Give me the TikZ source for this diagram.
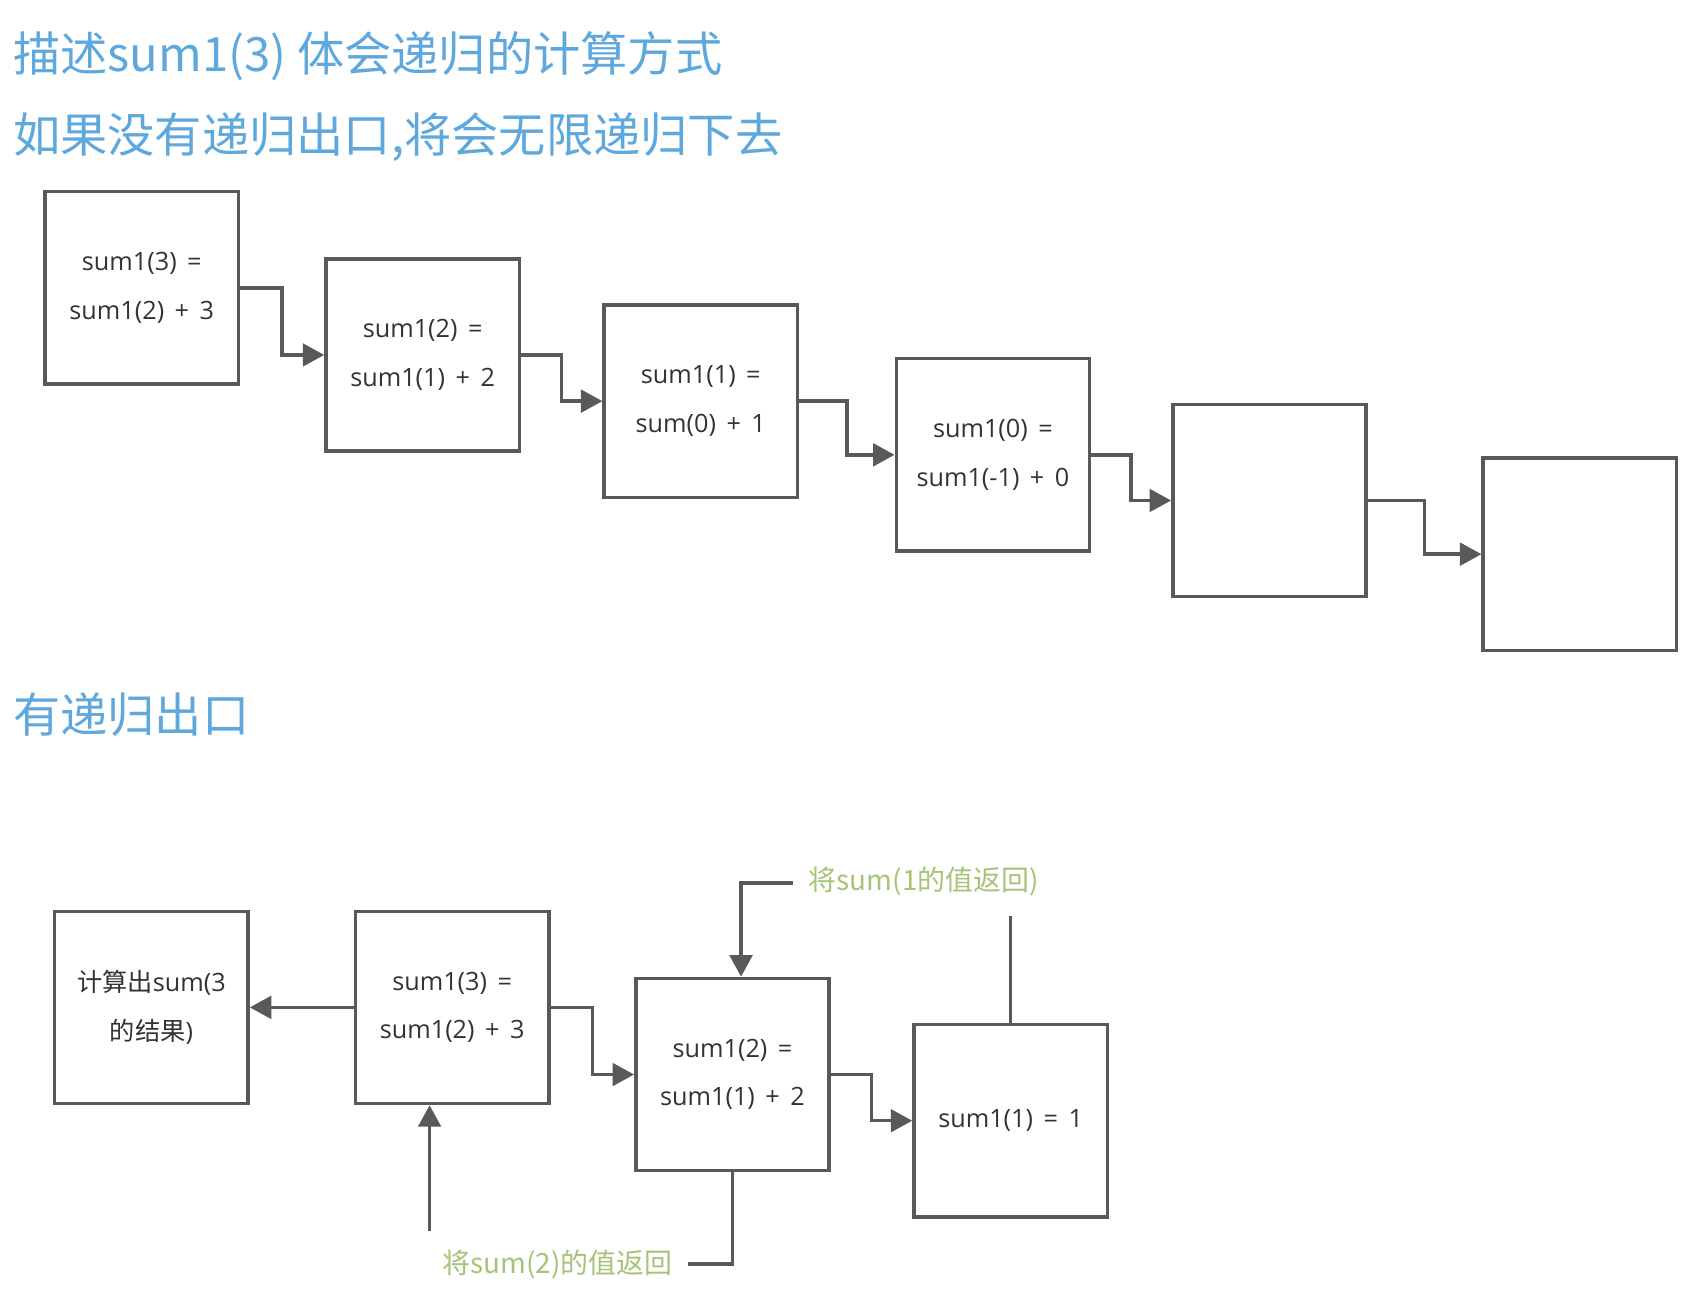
\documentclass[tikz,border=0pt]{standalone}
\usepackage{fontspec}
\setmainfont{Open Sans}
\newfontfamily\cjk{Noto Sans CJK SC}
\newfontfamily\boxfont[WordSpace=1.6]{Open Sans}
\newfontfamily\boxcjk{Noto Sans CJK SC}
\usetikzlibrary{arrows.meta,calc}
\definecolor{ttl}{RGB}{95,168,222}
\definecolor{grn}{RGB}{166,196,120}
\definecolor{ln}{RGB}{89,89,89}
\definecolor{txt}{RGB}{51,51,51}
\begin{document}
\begin{tikzpicture}[x=1pt,y=-1pt,
  box/.style={draw=ln, line width=3.2pt, minimum width=180pt, minimum height=179pt,
    inner sep=0pt, align=center, text=txt, font=\boxfont\fontsize{23.5}{45}\selectfont},
  conn/.style={draw=ln, line width=3.2pt, -{Triangle[length=20pt,width=21pt]}},
  plain/.style={draw=ln, line width=3.2pt},
  title/.style={anchor=west, inner sep=0pt, text=ttl, font=\cjk\fontsize{44}{52}\selectfont},
  lbl/.style={anchor=west, inner sep=0pt, text=grn, font=\cjk\fontsize{26}{30}\selectfont}]
\useasboundingbox[fill=white] (0,0) rectangle (1568,1211.4);

% titles
\node[title] (t1) at (12,52) {描述sum1(3) 体会递归的计算方式};
\node[title] (t2) at (12,128) {如果没有递归出口,将会无限递归下去};
\node[title] (t3) at (12,665) {有递归出口};

% top row
\node[box] (b1) at (132,268) {sum1(3) =\\sum1(2) + 3};
\node[box] (b2) at (393.5,330.5) {sum1(2) =\\sum1(1) + 2};
\node[box] (b3) at (652.5,373.5) {sum1(1) =\\sum(0) + 1};
\node[box] (b4) at (924.5,423.5) {sum1(0) =\\sum1(-1) + 0};
\node[box] (b5) at (1182,466) {};
\node[box] (b6) at (1471,516) {};

\draw[conn] (b1.east) -| ($(b1.east)!0.5!(b2.west)$) |- (b2.west);
\draw[conn] (b2.east) -| ($(b2.east)!0.5!(b3.west)$) |- (b3.west);
\draw[conn] (b3.east) -| ($(b3.east)!0.5!(b4.west)$) |- (b4.west);
\draw[conn] (b4.east) -| ($(b4.east)!0.5!(b5.west)$) |- (b5.west);
\draw[conn] (b5.east) -| ($(b5.east)!0.5!(b6.west)$) |- (b6.west);

% bottom row
\node[box] (c1) at (141,938) {{\boxcjk 计算出}sum(3\\{\boxcjk 的结果})};
\node[box] (c2) at (421,938) {sum1(3) =\\sum1(2) + 3};
\node[box] (c3) at (682,1000.5) {sum1(2) =\\sum1(1) + 2};
\node[box] (c4) at (941,1043.5) {sum1(1) = 1};

\draw[conn] (c2.west) -- (c1.east);
\draw[conn] (c2.east) -| ($(c2.east)!0.5!(c3.west)$) |- (c3.west);
\draw[conn] (c3.east) -| ($(c3.east)!0.5!(c4.west)$) |- (c4.west);

% return labels
\node[lbl] (l1) at (753,821) {将sum(1的值返回)};
\coordinate (p1) at (738,822);
\draw[conn] (p1) -| ([xshift=8pt]c3.north);
\coordinate (p2) at (941,853);
\draw[plain] (c4.north) -- (p2);

\node[lbl] (l2) at (412,1177) {将sum(2)的值返回};
\coordinate (p3) at (641,1177);
\draw[plain] (p3) -| (c3.south);
\coordinate (p4) at (400,1146);
\draw[conn] (p4) -- (p4 |- c2.south);
\end{tikzpicture}
\end{document}
